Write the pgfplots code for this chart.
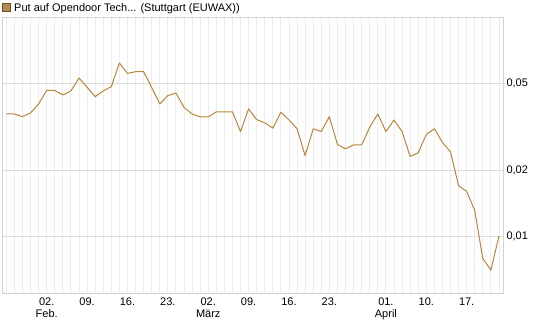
\documentclass[border=0pt]{standalone}
\usepackage{fontspec}
\setmainfont{Liberation Sans}
\usepackage{pgfplots}
\usepackage{pgfplotstable}
\pgfplotsset{compat=1.18}
\definecolor{linec}{HTML}{B8863B}
\definecolor{legf}{HTML}{B58A4E}
\definecolor{legd}{HTML}{6E4E22}
\definecolor{gx}{HTML}{EDEDED}
\definecolor{gy}{HTML}{DCDCDC}
\definecolor{framec}{HTML}{D2D2D2}
\pgfplotstableread{
i v
0 0.0361
1 0.0361
2 0.0351
3 0.0365
4 0.0401
5 0.0462
6 0.0462
7 0.0441
8 0.0460
9 0.0527
10 0.0478
11 0.0433
12 0.0460
13 0.0481
14 0.0617
15 0.0553
16 0.0563
17 0.0563
18 0.0476
19 0.0401
20 0.0438
21 0.0450
22 0.0387
23 0.0361
24 0.0350
25 0.0350
26 0.0369
27 0.0369
28 0.0369
29 0.0300
30 0.0381
31 0.0340
32 0.0329
33 0.0311
34 0.0368
35 0.0339
36 0.0309
37 0.0233
38 0.0309
39 0.0300
40 0.0351
41 0.0262
42 0.0250
43 0.0261
44 0.0261
45 0.0314
46 0.0361
47 0.0300
48 0.0339
49 0.0300
50 0.0231
51 0.0240
52 0.0291
53 0.0309
54 0.0268
55 0.0242
56 0.0170
57 0.0160
58 0.0131
59 0.0079
60 0.0070
61 0.0100
}\datatable
\begin{document}
\begin{tikzpicture}
\useasboundingbox (0pt,0pt) rectangle (545pt,327pt);
\filldraw[fill=legf, draw=legd, line width=0.8pt] (2.2pt,315.6pt) rectangle (10.2pt,323.6pt);
\node[anchor=base west, inner sep=0pt, font=\fontsize{11}{13}\selectfont] at (14pt,315pt) {Put auf Opendoor Tech... (Stuttgart (EUWAX))};
\begin{axis}[
  at={(2.3pt,34pt)}, anchor=south west,
  scale only axis, width=500.7pt, height=276pt,
  ymode=log, ymin=0.0055, ymax=0.1,
  xmin=-0.5, xmax=61.5,
  ytick={0.01,0.02,0.05},
  yticklabels={{0,01},{0,02},{0,05}},
  yticklabel pos=right,
  yminorticks=false,
  xtick={5,10,15,20,25,30,35,40,47,52,57},
  xticklabels={{02.\\Feb.},{09.},{16.},{23.},{02.\\März},{09.},{16.},{23.},{01.\\April},{10.},{17.}},
  minor xtick={0,...,61},
  xmajorgrids, xminorgrids, ymajorgrids,
  x grid style={color=gx, line width=0.9pt},
  y grid style={color=gy, line width=0.9pt},
  axis line style={color=framec, line width=0.9pt},
  major tick length=0pt, minor tick length=0pt,
  tick label style={font=\fontsize{11}{12.5}\selectfont, text=black},
  xticklabel style={align=center, yshift=-1pt},
]
\addplot[linec, line width=1pt, line join=round] table[x=i, y=v] {\datatable};
\end{axis}
\end{tikzpicture}
\end{document}
